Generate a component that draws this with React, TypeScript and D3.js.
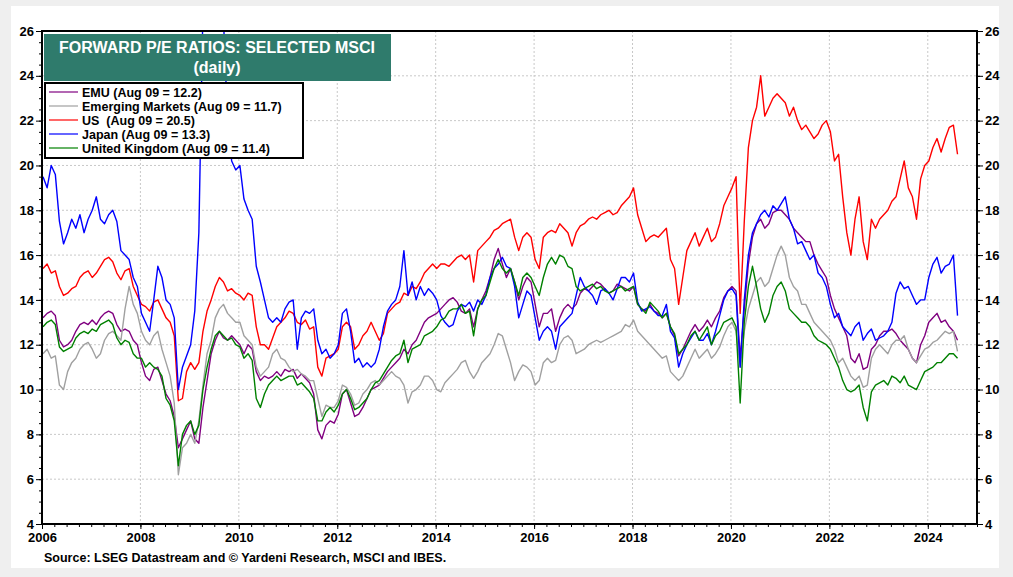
import React, { useEffect, useRef } from 'react';
import * as d3 from 'd3';

const W = 1013;
const H = 577;

// monthly readings, Jan 2006 .. Aug 2024
const START_YEAR = 2006;

const emu = [
  13.2, 13.4, 13.5, 13.3, 12.2, 11.9, 12.0, 12.2, 12.6, 12.9, 13.0, 12.9, // 2006
  13.1, 12.9, 13.2, 13.4, 13.5, 13.4, 12.9, 12.6, 12.7, 12.6, 12.2, 12.0, // 2007
  11.2, 10.6, 10.4, 10.9, 11.0, 10.4, 9.8, 9.5, 8.8, 7.4, 7.8, 8.2, // 2008
  8.6, 7.8, 7.6, 9.2, 10.4, 11.6, 12.2, 12.6, 12.3, 12.2, 12.4, 12.2, // 2009
  12.0, 11.6, 12.0, 11.8, 10.8, 10.4, 10.6, 10.5, 10.6, 10.8, 10.6, 10.9, // 2010
  10.8, 10.9, 10.5, 10.7, 10.5, 10.3, 9.8, 8.2, 7.8, 8.4, 8.6, 8.5, // 2011
  8.9, 9.8, 10.0, 9.4, 8.8, 8.9, 9.2, 9.6, 10.0, 10.1, 10.2, 10.5, // 2012
  10.8, 11.0, 11.2, 11.4, 11.8, 11.6, 12.0, 12.2, 12.6, 13.0, 13.2, 13.3, // 2013
  13.4, 13.6, 13.8, 14.0, 14.1, 13.9, 13.5, 13.4, 13.6, 12.8, 13.6, 14.0, // 2014
  14.4, 15.0, 15.8, 16.3, 15.6, 15.0, 15.4, 14.8, 14.0, 14.6, 15.0, 14.8, // 2015
  13.8, 12.8, 13.4, 13.4, 13.6, 12.6, 13.2, 13.6, 13.8, 13.6, 13.8, 14.3, // 2016
  14.5, 14.4, 14.6, 14.8, 14.7, 14.5, 14.3, 14.4, 14.7, 14.6, 14.5, 14.4, // 2017
  14.6, 13.8, 13.6, 13.5, 13.8, 13.5, 13.4, 13.2, 13.4, 12.8, 12.4, 11.5, // 2018
  11.8, 12.2, 12.6, 12.9, 12.6, 12.8, 13.1, 12.8, 13.2, 13.5, 14.1, 14.4, // 2019
  14.6, 14.4, 11.4, 13.6, 15.6, 16.8, 17.4, 17.6, 17.2, 17.4, 17.9, 18.0, // 2020
  18.0, 17.8, 17.6, 17.2, 17.0, 16.8, 16.6, 16.6, 16.0, 15.6, 15.3, 15.0, // 2021
  14.2, 13.6, 13.2, 12.8, 12.4, 11.4, 11.2, 11.6, 10.9, 11.0, 11.8, 12.0, // 2022
  12.4, 12.6, 12.6, 12.7, 12.5, 12.2, 12.0, 11.8, 11.4, 11.2, 12.0, 12.4, // 2023
  13.0, 13.2, 13.4, 13.0, 13.1, 12.8, 12.6, 12.2, // 2024
];

const emerging = [
  11.6, 11.8, 11.4, 11.5, 10.2, 10.0, 10.8, 11.2, 11.4, 11.8, 12.0, 12.1, // 2006
  11.8, 11.4, 11.6, 12.2, 12.5, 12.6, 12.4, 12.2, 13.6, 14.6, 13.8, 13.4, // 2007
  12.6, 12.2, 12.0, 12.4, 12.6, 11.8, 11.2, 10.6, 9.4, 6.2, 7.4, 7.6, // 2008
  8.0, 7.6, 8.6, 10.2, 11.6, 12.2, 13.2, 13.6, 13.8, 13.4, 13.2, 13.0, // 2009
  13.0, 12.4, 12.2, 12.0, 11.0, 10.6, 10.8, 11.0, 11.6, 11.8, 11.4, 11.3, // 2010
  11.0, 10.8, 10.9, 10.7, 10.6, 10.4, 10.4, 9.6, 8.8, 9.3, 9.2, 9.2, // 2011
  9.5, 10.2, 10.1, 9.8, 9.3, 9.4, 9.8, 10.0, 10.3, 10.4, 10.2, 10.4, // 2012
  10.6, 10.8, 10.6, 10.5, 10.2, 9.4, 9.9, 10.0, 10.2, 10.6, 10.6, 10.4, // 2013
  10.0, 9.9, 10.3, 10.5, 10.7, 10.9, 11.2, 11.3, 10.8, 10.5, 10.8, 11.2, // 2014
  11.4, 11.6, 12.0, 12.5, 12.4, 11.8, 11.2, 10.4, 10.8, 11.1, 11.0, 10.8, // 2015
  10.2, 10.4, 11.2, 11.4, 11.2, 11.3, 12.0, 12.3, 12.4, 12.2, 11.6, 11.7, // 2016
  11.8, 12.0, 12.1, 12.2, 12.1, 12.2, 12.3, 12.4, 12.5, 12.6, 12.9, 12.8, // 2017
  13.1, 12.6, 12.4, 12.2, 12.0, 11.8, 11.6, 11.4, 11.5, 10.8, 10.6, 10.4, // 2018
  10.6, 11.0, 11.4, 11.8, 11.4, 11.6, 11.8, 11.4, 11.6, 11.9, 12.4, 12.8, // 2019
  13.0, 12.6, 11.0, 12.6, 13.6, 14.2, 14.8, 15.0, 14.6, 14.8, 15.4, 16.0, // 2020
  16.4, 16.0, 15.0, 14.6, 14.4, 13.8, 13.8, 13.4, 13.0, 12.8, 12.6, 12.4, // 2021
  12.2, 11.8, 11.2, 11.4, 11.0, 10.6, 10.4, 10.6, 10.1, 10.2, 11.4, 11.8, // 2022
  12.0, 11.8, 11.6, 12.0, 12.2, 12.2, 12.4, 11.8, 11.4, 11.2, 11.5, 11.8, // 2023
  11.9, 12.1, 12.2, 12.4, 12.6, 12.5, 12.6, 11.7, // 2024
];

const us = [
  15.4, 15.6, 15.2, 15.3, 14.6, 14.2, 14.3, 14.5, 14.6, 15.0, 15.2, 15.3, // 2006
  15.0, 15.2, 15.5, 15.8, 15.9, 15.7, 15.2, 14.9, 15.3, 15.4, 14.6, 14.2, // 2007
  13.8, 13.7, 13.5, 13.9, 14.0, 13.6, 13.2, 13.0, 12.4, 9.5, 9.6, 10.8, // 2008
  11.2, 10.9, 11.2, 12.6, 13.5, 14.0, 14.6, 15.0, 14.8, 14.4, 14.5, 14.3, // 2009
  14.2, 14.0, 14.3, 14.2, 12.8, 12.0, 12.0, 11.8, 12.3, 12.8, 13.0, 13.2, // 2010
  13.5, 13.4, 13.0, 12.9, 13.1, 12.7, 12.8, 11.0, 10.6, 11.4, 11.5, 11.6, // 2011
  11.8, 12.8, 13.0, 12.8, 11.8, 12.0, 12.4, 12.6, 13.0, 12.6, 12.2, 12.5, // 2012
  13.4, 13.6, 13.8, 13.9, 14.3, 14.2, 14.6, 14.5, 14.8, 15.2, 15.4, 15.6, // 2013
  15.4, 15.6, 15.6, 15.5, 15.7, 15.9, 16.0, 15.8, 16.0, 14.8, 16.2, 16.4, // 2014
  16.6, 16.8, 17.1, 17.2, 17.4, 17.5, 17.6, 16.8, 16.2, 16.8, 17.0, 16.8, // 2015
  15.8, 15.4, 16.8, 17.0, 17.1, 17.0, 17.4, 17.2, 17.0, 16.4, 17.0, 17.3, // 2016
  17.4, 17.6, 17.7, 17.6, 17.8, 17.9, 18.0, 17.8, 17.9, 18.2, 18.4, 18.6, // 2017
  19.0, 17.8, 17.2, 16.6, 16.8, 16.9, 16.8, 17.0, 17.2, 15.8, 15.4, 13.8, // 2018
  15.0, 16.2, 16.6, 17.0, 16.4, 16.8, 17.2, 16.6, 16.8, 17.4, 18.2, 18.6, // 2019
  19.0, 19.5, 13.4, 17.5, 20.8, 22.0, 22.6, 24.0, 22.2, 22.6, 23.0, 23.2, // 2020
  23.0, 22.8, 22.2, 22.6, 22.0, 21.6, 21.8, 21.5, 21.2, 21.4, 21.8, 22.0, // 2021
  21.5, 20.2, 20.5, 18.6, 17.0, 16.0, 17.6, 18.6, 16.6, 15.8, 17.6, 17.2, // 2022
  17.6, 17.8, 18.0, 18.4, 18.6, 19.4, 20.2, 19.0, 18.6, 17.6, 19.4, 20.0, // 2023
  20.2, 20.8, 21.2, 20.6, 21.2, 21.7, 21.8, 20.5, // 2024
];

const japan = [
  19.5, 19.0, 20.0, 19.6, 17.5, 16.5, 17.0, 17.6, 17.2, 17.8, 17.0, 17.6, // 2006
  18.0, 18.6, 17.6, 17.4, 17.8, 18.0, 17.5, 16.2, 16.0, 15.8, 15.0, 14.6, // 2007
  13.4, 13.0, 12.6, 14.0, 15.5, 15.0, 14.0, 13.8, 13.2, 10.0, 11.0, 11.5, // 2008
  12.0, 13.5, 17.0, 27.0, 28.0, 28.0, 28.0, 27.5, 26.5, 22.0, 20.2, 19.8, // 2009
  20.0, 18.5, 18.0, 17.6, 15.5, 14.8, 14.0, 13.2, 13.0, 13.2, 13.0, 13.6, // 2010
  13.9, 14.0, 11.8, 13.2, 13.5, 13.4, 13.6, 12.2, 11.6, 11.8, 11.4, 11.6, // 2011
  12.0, 13.4, 13.6, 12.6, 11.2, 11.4, 11.0, 11.2, 11.0, 11.2, 11.8, 12.8, // 2012
  13.5, 13.8, 14.0, 14.6, 16.2, 14.2, 14.8, 14.0, 14.6, 14.2, 14.5, 14.3, // 2013
  14.0, 13.3, 13.0, 12.8, 12.9, 13.5, 13.8, 13.7, 13.9, 13.5, 14.0, 13.8, // 2014
  14.2, 15.0, 15.4, 15.6, 15.9, 15.5, 15.4, 14.6, 13.2, 13.8, 14.4, 14.2, // 2015
  13.2, 12.2, 12.6, 12.8, 12.6, 11.8, 12.8, 13.0, 13.2, 13.4, 14.2, 15.0, // 2016
  14.6, 14.4, 14.2, 13.8, 14.4, 14.5, 14.3, 14.0, 14.5, 15.0, 15.0, 14.8, // 2017
  15.2, 13.9, 13.5, 13.6, 13.7, 13.5, 13.3, 13.3, 13.8, 12.6, 12.3, 11.0, // 2018
  11.6, 12.0, 12.3, 12.6, 12.2, 12.2, 12.5, 12.0, 12.6, 13.3, 14.0, 14.4, // 2019
  14.5, 14.2, 11.0, 14.0, 16.0, 17.0, 17.4, 17.8, 18.0, 17.7, 18.2, 18.0, // 2020
  18.3, 18.6, 17.6, 17.2, 16.5, 16.6, 16.2, 15.8, 16.0, 15.2, 15.0, 14.6, // 2021
  13.8, 13.2, 13.4, 12.8, 12.6, 12.4, 12.8, 13.0, 12.2, 12.5, 12.7, 12.2, // 2022
  12.3, 12.4, 12.6, 13.0, 14.3, 14.8, 14.5, 14.6, 14.2, 13.8, 14.0, 14.0, // 2023
  15.0, 15.6, 15.9, 15.2, 15.5, 15.6, 16.0, 13.3, // 2024
];

const uk = [
  12.8, 13.0, 13.1, 12.9, 11.9, 11.7, 11.8, 11.9, 12.3, 12.5, 12.6, 12.5, // 2006
  12.7, 12.6, 12.9, 13.0, 13.1, 12.9, 12.3, 12.0, 12.2, 12.1, 11.6, 11.4, // 2007
  11.4, 11.0, 11.2, 11.0, 10.9, 10.6, 9.6, 9.3, 8.6, 6.6, 8.0, 8.4, // 2008
  8.6, 8.0, 8.4, 10.0, 11.0, 11.8, 12.4, 12.6, 12.4, 12.2, 12.3, 12.0, // 2009
  11.9, 11.4, 11.6, 11.3, 9.6, 9.2, 9.8, 10.2, 10.4, 10.6, 10.4, 10.5, // 2010
  10.6, 10.6, 10.2, 10.3, 10.1, 9.9, 9.6, 8.6, 8.6, 9.0, 9.2, 9.0, // 2011
  9.3, 9.8, 10.0, 9.6, 9.1, 9.2, 9.4, 9.6, 10.0, 10.3, 10.4, 10.7, // 2012
  11.0, 11.3, 11.5, 11.6, 12.2, 11.2, 11.8, 11.9, 12.0, 12.4, 12.5, 12.6, // 2013
  12.8, 13.1, 13.2, 13.5, 13.6, 13.6, 13.8, 13.4, 13.5, 12.4, 13.6, 14.0, // 2014
  14.2, 14.8, 15.4, 15.8, 15.4, 15.2, 15.4, 14.8, 14.2, 15.0, 15.2, 15.0, // 2015
  14.6, 14.2, 15.0, 15.6, 15.9, 15.6, 16.0, 15.9, 15.5, 15.4, 14.6, 14.4, // 2016
  14.5, 14.6, 14.7, 14.5, 14.6, 14.4, 14.3, 14.4, 14.5, 14.6, 14.4, 14.5, // 2017
  14.6, 13.8, 13.6, 13.4, 13.9, 13.7, 13.5, 13.2, 13.4, 12.8, 12.5, 11.6, // 2018
  11.8, 12.0, 12.4, 12.6, 12.2, 12.5, 12.8, 12.0, 12.4, 12.6, 13.0, 13.1, // 2019
  13.2, 12.8, 9.4, 13.0, 14.6, 15.5, 14.6, 13.6, 13.0, 13.4, 14.2, 14.6, // 2020
  14.8, 14.4, 13.6, 13.4, 13.2, 13.0, 13.0, 12.8, 12.4, 12.2, 12.1, 12.0, // 2021
  11.8, 11.4, 11.0, 10.4, 10.0, 9.9, 10.0, 10.2, 9.2, 8.6, 9.9, 10.2, // 2022
  10.3, 10.4, 10.2, 10.6, 10.5, 10.3, 10.6, 10.2, 10.1, 10.0, 10.4, 10.8, // 2023
  10.9, 11.0, 11.2, 11.2, 11.4, 11.6, 11.6, 11.4, // 2024
];

const seriesLabels = [
  'EMU (Aug 09 = 12.2)',
  'Emerging Markets (Aug 09 = 11.7)',
  'US  (Aug 09 = 20.5)',
  'Japan (Aug 09 = 13.3)',
  'United Kingdom (Aug 09 = 11.4)',
];
const seriesColors = ['#800080', '#a0a0a0', '#ff0000', '#0000ff', '#008000'];
const seriesData = [emu, emerging, us, japan, uk];

const yTicks = d3.range(4, 27, 2);
const xTicks = d3.range(2006, 2025, 2);

const FONT = 'Arial, "Liberation Sans", Helvetica, sans-serif';

const App: React.FC = () => {
  const svgRef = useRef<SVGSVGElement>(null);

  useEffect(() => {
    if (!svgRef.current) return;
    const svg = d3.select(svgRef.current);
    svg.selectAll('*').remove();

    const left = 42, right = 977, top = 31, bottom = 524;
    const x = d3.scaleLinear().domain([2006, 2025]).range([left, right]);
    const y = d3.scaleLinear().domain([4, 26]).range([bottom, top]);

    svg.append('rect').attr('width', W).attr('height', H).attr('fill', '#efefef');
    svg.append('rect').attr('x', 11).attr('y', 6).attr('width', 988).attr('height', 562).attr('fill', '#fff');

    // dotted grid
    const grid = svg.append('g').attr('stroke', '#c8c8c8').attr('stroke-width', 1).attr('stroke-dasharray', '2,2');
    grid.selectAll('line.h')
      .data(yTicks.filter(d => d > 4 && d < 26))
      .join('line')
      .attr('x1', left).attr('x2', right)
      .attr('y1', d => y(d)).attr('y2', d => y(d));
    grid.selectAll('line.v')
      .data(xTicks.filter(d => d > 2006))
      .join('line')
      .attr('class', 'v')
      .attr('y1', top).attr('y2', bottom)
      .attr('x1', d => x(d)).attr('x2', d => x(d));

    // lines
    svg.append('clipPath').attr('id', 'plot-clip')
      .append('rect').attr('x', left).attr('y', top).attr('width', right - left).attr('height', bottom - top);

    const line = d3.line<number>()
      .x((_, i) => x(START_YEAR + (i + 0.25) / 12))
      .y(d => y(d));

    const lines = svg.append('g').attr('clip-path', 'url(#plot-clip)');
    seriesData.forEach((data, i) => {
      lines.append('path')
        .datum(data)
        .attr('fill', 'none')
        .attr('stroke', seriesColors[i])
        .attr('stroke-width', 1.4)
        .attr('stroke-linejoin', 'round')
        .attr('d', line);
    });

    // axes
    const styleAxis = (g: d3.Selection<SVGGElement, unknown, null, undefined>) => {
      g.select('.domain').remove();
      g.selectAll('line').attr('stroke', '#000');
      g.selectAll('text')
        .attr('fill', '#000')
        .style('font-family', FONT)
        .style('font-weight', 'bold')
        .style('font-size', '13px');
    };

    const minorY = d3.range(4, 26.01, 0.5);
    svg.append('g')
      .attr('transform', `translate(${left},0)`)
      .call(d3.axisLeft(y).tickValues(minorY).tickSize(3).tickFormat(() => ''))
      .call(styleAxis);
    svg.append('g')
      .attr('transform', `translate(${left},0)`)
      .call(d3.axisLeft(y).tickValues(yTicks).tickSize(6).tickPadding(2).tickFormat(d3.format('d')))
      .call(styleAxis);
    svg.append('g')
      .attr('transform', `translate(${right},0)`)
      .call(d3.axisRight(y).tickValues(minorY).tickSize(3).tickFormat(() => ''))
      .call(styleAxis);
    svg.append('g')
      .attr('transform', `translate(${right},0)`)
      .call(d3.axisRight(y).tickValues(yTicks).tickSize(6).tickPadding(2).tickFormat(d3.format('d')))
      .call(styleAxis);

    const minorX = d3.range(2006, 2025.01, 0.25);
    svg.append('g')
      .attr('transform', `translate(0,${bottom})`)
      .call(d3.axisBottom(x).tickValues(minorX).tickSize(3).tickFormat(() => ''))
      .call(styleAxis);
    svg.append('g')
      .attr('transform', `translate(0,${bottom})`)
      .call(d3.axisBottom(x).tickValues(xTicks).tickSize(5).tickPadding(4).tickFormat(d3.format('d')))
      .call(styleAxis);

    // frame
    svg.append('rect')
      .attr('x', left).attr('y', top)
      .attr('width', right - left).attr('height', bottom - top)
      .attr('fill', 'none').attr('stroke', '#000').attr('stroke-width', 2);

    // title box
    svg.append('rect')
      .attr('x', 44).attr('y', 34).attr('width', 347).attr('height', 47)
      .attr('fill', '#2f7b6c');
    svg.append('text')
      .attr('x', 217).attr('y', 53)
      .attr('text-anchor', 'middle')
      .attr('fill', '#fff')
      .style('font-family', FONT).style('font-weight', 'bold').style('font-size', '16px')
      .text('FORWARD P/E RATIOS: SELECTED MSCI');
    svg.append('text')
      .attr('x', 217).attr('y', 73)
      .attr('text-anchor', 'middle')
      .attr('fill', '#fff')
      .style('font-family', FONT).style('font-weight', 'bold').style('font-size', '16px')
      .text('(daily)');

    // legend
    svg.append('rect')
      .attr('x', 45).attr('y', 83).attr('width', 258).attr('height', 75)
      .attr('fill', '#fff').attr('stroke', '#000').attr('stroke-width', 2);
    const legend = svg.append('g');
    seriesLabels.forEach((label, i) => {
      const cy = 92 + i * 14;
      legend.append('line')
        .attr('x1', 49).attr('x2', 78).attr('y1', cy).attr('y2', cy)
        .attr('stroke', seriesColors[i]).attr('stroke-width', 1.2);
      legend.append('text')
        .attr('x', 82).attr('y', cy + 4.5)
        .attr('fill', '#000')
        .style('white-space', 'pre')
        .style('font-family', FONT).style('font-weight', 'bold').style('font-size', '12.5px')
        .text(label);
    });

    // source
    svg.append('text')
      .attr('x', 44).attr('y', 562)
      .attr('fill', '#000')
      .style('font-family', FONT).style('font-weight', 'bold').style('font-size', '12.5px')
      .text('Source: LSEG Datastream and © Yardeni Research, MSCI and IBES.');
  }, []);

  return (
    <svg
      ref={svgRef}
      width={W}
      height={H}
      style={{ position: 'absolute', left: 0, top: 0, display: 'block' }}
    />
  );
};

export default App;
